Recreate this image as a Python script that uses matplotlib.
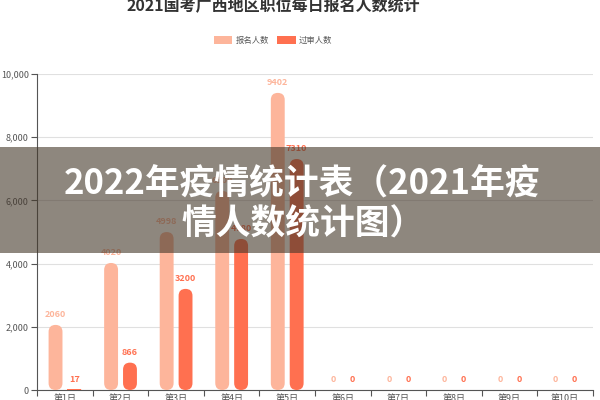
import numpy as np
import matplotlib
matplotlib.use("Agg")
from matplotlib import pyplot as plt
from matplotlib.patches import FancyBboxPatch, Rectangle

plt.rcParams['font.family'] = ['Noto Sans CJK SC', 'DejaVu Sans']

# データ
days = ['第1日', '第2日', '第3日', '第4日', '第5日', '第6日', '第7日', '第8日', '第9日', '第10日']
applied = [2060, 4020, 4998, 6300, 9402, 0, 0, 0, 0, 0]
approved = [17, 866, 3200, 4780, 7310, 0, 0, 0, 0, 0]
yticks = [0, 2000, 4000, 6000, 8000, 10000]

c_light = '#fdb59b'
c_dark = '#ff7050'

fig = plt.figure(figsize=(6, 4), dpi=100)
ax = fig.add_axes([0.062, 0.025, 0.926, 0.79])

x = np.arange(len(days))
w = 0.25
off = 0.17
ax.set_xlim(-0.5, len(days) - 0.5)
ax.set_ylim(0, 10000)

# 1データ単位あたりのアスペクト (y / x)
bbox = ax.get_position()
px_w = bbox.width * 600
px_h = bbox.height * 400
aspect = (10000 / px_h) / (len(days) / px_w)


def rounded_bars(xs, vals, color):
    rects = ax.bar(xs, vals, width=w, color=color)
    for r, v in zip(rects, vals):
        r.set_visible(False)
        if v <= 0:
            continue
        rx, ry = r.get_x(), r.get_y()
        rw, rh = r.get_width(), r.get_height()
        rr = min(rw / 2, rh / aspect / 2)
        p = FancyBboxPatch((rx, ry), rw, rh,
                           boxstyle='round,pad=0,rounding_size=%f' % rr,
                           mutation_aspect=aspect, fc=color, ec='none', zorder=3)
        ax.add_patch(p)
        if rh / aspect < 0.02:
            ax.add_patch(Rectangle((rx, ry), rw, max(rh, 20), fc=color, ec='none', zorder=3))
    for xi, v in zip(xs, vals):
        ax.text(xi, v + 180, str(v), ha='center', va='bottom', color=color,
                fontsize=6.5, fontweight='bold', zorder=4)


rounded_bars(x - off, applied, c_light)
rounded_bars(x + off, approved, c_dark)

ax.set_yticks(yticks)
ax.set_yticklabels(['{:,}'.format(t) for t in yticks], fontsize=6.5, color='#555555')
ax.grid(axis='y', color='#e0e0e0', lw=0.8, zorder=0)
ax.set_axisbelow(True)

ax.set_xticks(np.arange(-0.5, len(days)), minor=False)
ax.set_xticklabels([])
ax.set_xticks(x, minor=True)
ax.set_xticklabels(days, minor=True, fontsize=6.5, color='#555555')
ax.tick_params(axis='x', which='minor', length=0, pad=3)
ax.tick_params(axis='x', which='major', length=4, color='#555555')
ax.tick_params(axis='y', length=4, color='#555555', pad=2)

for s in ['top', 'right']:
    ax.spines[s].set_visible(False)
for s in ['left', 'bottom']:
    ax.spines[s].set_color('#555555')
    ax.spines[s].set_linewidth(0.8)

# タイトル・凡例
fig.text(0.455, 0.988, '2021国考广西地区职位每日报名人数统计', ha='center', va='center',
         fontsize=11.5, fontweight='heavy', color='#333333')
leg = fig.legend(handles=[Rectangle((0, 0), 1, 1, fc=c_light), Rectangle((0, 0), 1, 1, fc=c_dark)],
                 labels=['报名人数', '过审人数'], loc='center', bbox_to_anchor=(0.455, 0.9),
                 ncol=2, frameon=False, fontsize=6, handlelength=2.2, handleheight=1.1,
                 columnspacing=1.0, handletextpad=0.4)
for t in leg.get_texts():
    t.set_color('#555555')

# 上に重なる帯
fig.patches.append(Rectangle((0, 1 - 253 / 400), 1, 106 / 400, transform=fig.transFigure,
                             fc='#433729', alpha=0.6, ec='none', zorder=10))
fig.text(0.503, 1 - 184 / 400, '2022年疫情统计表（2021年疫', ha='center', va='center',
         fontsize=25, fontweight='heavy', color='white', zorder=11)
fig.text(0.505, 1 - 224 / 400, '情人数统计图）', ha='center', va='center',
         fontsize=25, fontweight='heavy', color='white', zorder=11)

fig.savefig('out.png', dpi=100)
